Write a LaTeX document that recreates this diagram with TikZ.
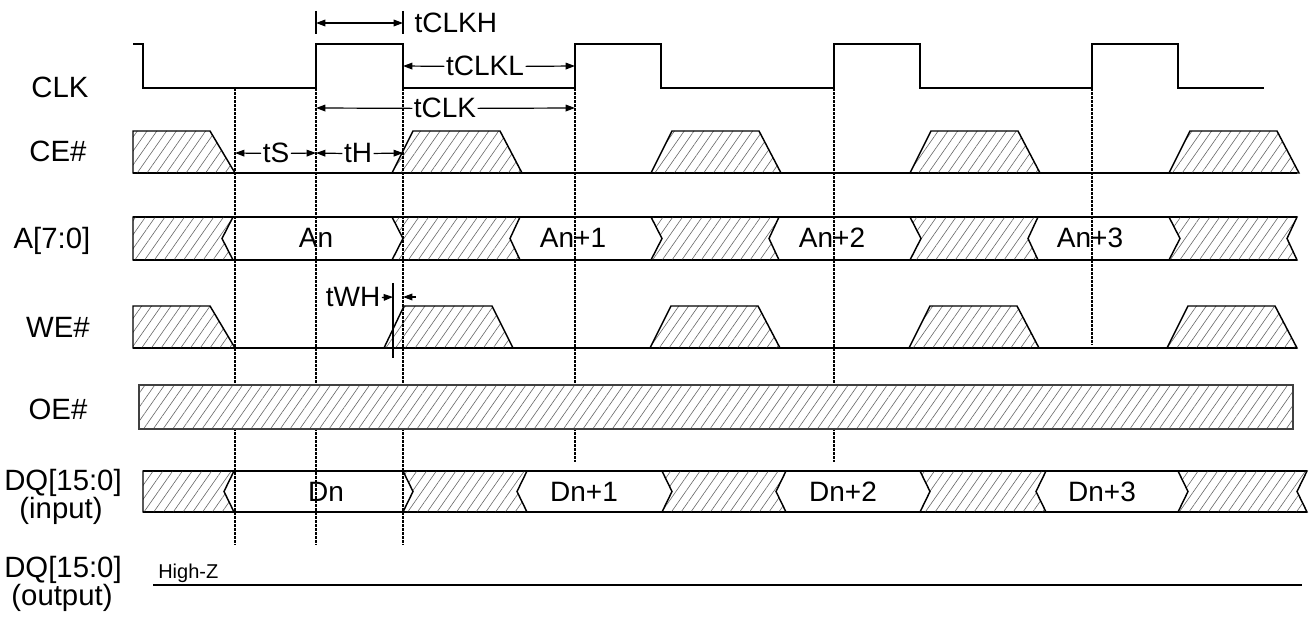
\documentclass[tikz,border=0pt]{standalone}
\usepackage{fontspec}
\setmainfont{Liberation Sans}
\usetikzlibrary{arrows.meta,patterns.meta}
\begin{document}
\begin{tikzpicture}[x=0.75pt,y=-0.75pt,
  wave/.style={line width=1.1pt, line join=miter},
  hatch/.style={pattern={Lines[angle=55,distance=6pt,line width=0.45pt]}, pattern color=black!60},
  guide/.style={line width=1.3pt, dash pattern=on 2.2pt off 0.8pt},
  arr/.style={line width=0.9pt, -{Triangle[length=7pt,width=5pt]}},
  darr/.style={line width=0.9pt, {Triangle[length=7pt,width=5pt]}-{Triangle[length=7pt,width=5pt]}},
  lbl/.style={font=\fontsize{21}{24}\selectfont, anchor=base, inner sep=0pt},
  rlbl/.style={font=\fontsize{22}{25}\selectfont, anchor=base, inner sep=0pt},
  tlbl/.style={font=\fontsize{21}{24}\selectfont, anchor=base, inner sep=1pt},
  small/.style={font=\fontsize{15}{17}\selectfont, anchor=base west, inner sep=0pt}]
\useasboundingbox (0,0) rectangle (1311,620);

% row labels
\node[rlbl] (lclk) at (60,98) {CLK};
\node[rlbl] (lce) at (58,162) {CE\#};
\node[rlbl] (la) at (52,249) {A[7:0]};
\node[rlbl] (lwe) at (58,338) {WE\#};
\node[rlbl] (loe) at (58,420) {OE\#};
\node[rlbl] (ldq1) at (63,490) {DQ[15:0]};
\node[rlbl] (lin) at (61,518) {(input)};
\node[rlbl] (ldq2) at (63,577) {DQ[15:0]};
\node[rlbl] (lout) at (62,605) {(output)};

% CLK
\draw[wave] (133,44) -- (143,44) -- (143,88) -- (316,88) -- (316,44) -- (403,44) -- (403,88)
  -- (575,88) -- (575,44) -- (661,44) -- (661,88) -- (834,88) -- (834,44) -- (920,44) -- (920,88)
  -- (1092,88) -- (1092,44) -- (1178,44) -- (1178,88) -- (1264,88);

% CE#
\draw[wave] (133,173) -- (1297,173);
\draw[wave,hatch] (133,131) -- (210,131) -- (235,173) -- (133,173) -- cycle;
\foreach \a in {392,651,910,1169}
  \draw[wave,hatch] (\a,173) -- (\a+21,131) -- (\a+108,131) -- (\a+130,173) -- cycle;

% A[7:0]
\draw[wave] (133,217) -- (1297,217);
\draw[wave] (133,260) -- (1297,260);
\draw[wave,hatch] (133,217) -- (233,217) -- (222,238.5) -- (233,260) -- (133,260) -- cycle;
\foreach \L/\R in {392/520,651/779,910/1038,1169/1297}
  \draw[wave,hatch] (\L,217) -- (\R,217) -- (\R-10,238.5) -- (\R,260) -- (\L,260) -- (\L+11,238.5) -- cycle;

% WE#
\draw[wave] (133,348) -- (1297,348);
\draw[wave,hatch] (133,306) -- (210,306) -- (235,348) -- (133,348) -- cycle;
\draw[wave,hatch] (384,348) -- (404,306) -- (492,306) -- (513,348) -- cycle;
\foreach \a in {650,909,1167}
  \draw[wave,hatch] (\a,348) -- (\a+21,306) -- (\a+108,306) -- (\a+130,348) -- cycle;

% DQ input
\draw[wave] (143,471) -- (1307,471);
\draw[wave] (143,512) -- (1307,512);
\draw[wave,hatch] (143,471) -- (234,471) -- (224,491.5) -- (234,512) -- (143,512) -- cycle;
\foreach \L/\R in {403/527,662/786,920/1046,1178/1307}
  \draw[wave,hatch] (\L,471) -- (\R,471) -- (\R-10,491.5) -- (\R,512) -- (\L,512) -- (\L+10,491.5) -- cycle;

% DQ output
\draw[wave] (153,585) -- (1302,585);
\node[small] (hz) at (158,578) {High-Z};

% guide lines
\coordinate (g1a) at (235,88);  \coordinate (g1b) at (235,545);
\coordinate (g2a) at (316,88);  \coordinate (g2b) at (316,545);
\coordinate (g3a) at (403,88);  \coordinate (g3b) at (403,545);
\coordinate (g4a) at (575,88);  \coordinate (g4b) at (575,462);
\coordinate (g5a) at (834,88);  \coordinate (g5b) at (834,462);
\coordinate (g6a) at (1092,88); \coordinate (g6b) at (1092,345);
\foreach \i in {1,...,6} \draw[guide] (g\i a) -- (g\i b);

% OE#
\draw[line width=0.8pt, draw=black!75, fill=white] (139,385) rectangle (1293,429);
\fill[hatch] (139,385) rectangle (1293,429);
\draw[line width=0.8pt, draw=black!75] (139,385) rectangle (1293,429);

% value labels
\node[lbl] (an0) at (316,248) {An};
\node[lbl] (an1) at (573,248) {An+1};
\node[lbl] (an2) at (832,248) {An+2};
\node[lbl] (an3) at (1090,248) {An+3};
\node[lbl] (dn0) at (326,501) {Dn};
\node[lbl] (dn1) at (584,501) {Dn+1};
\node[lbl] (dn2) at (843,501) {Dn+2};
\node[lbl] (dn3) at (1102,501) {Dn+3};

% tCLKH
\coordinate (h1) at (316,23); \coordinate (h2) at (403,23);
\draw[line width=0.9pt] (316,11) -- (316,34);
\draw[line width=0.9pt] (403,11) -- (403,34);
\draw[darr] (h1) -- (h2);
\node[tlbl, anchor=base west] (tclkh) at (413,33) {tCLKH};

% tCLKL
\coordinate (l1) at (403,66); \coordinate (l2) at (575,66);
\node[tlbl] (tclkl) at (485,76) {tCLKL};
\draw[arr] (tclkl.west) -- (l1);
\draw[arr] (tclkl.east) -- (l2);

% tCLK
\coordinate (k1) at (316,108); \coordinate (k2) at (575,108);
\node[tlbl] (tclk) at (445,118) {tCLK};
\draw[arr] (tclk.west) -- (k1);
\draw[arr] (tclk.east) -- (k2);

% tS, tH
\coordinate (s1) at (235,153); \coordinate (s2) at (316,153); \coordinate (s3) at (403,153);
\node[tlbl] (ts) at (276,163) {tS};
\node[tlbl] (th) at (358,163) {tH};
\draw[arr] (ts.west) -- (s1);
\draw[arr] (ts.east) -- (s2);
\draw[arr] (th.west) -- (s2);
\draw[arr] (th.east) -- (s3);

% tWH
\coordinate (w1) at (393,297); \coordinate (w2) at (403,297); \coordinate (w3) at (416,297);
\coordinate (wt) at (393,283); \coordinate (wb) at (393,358);
\draw[line width=1.1pt] (wt) -- (wb);
\node[tlbl] (twh) at (353,307) {tWH};
\draw[arr] (twh.east) -- (w1);
\draw[arr] (w3) -- (w2);
\end{tikzpicture}
\end{document}
